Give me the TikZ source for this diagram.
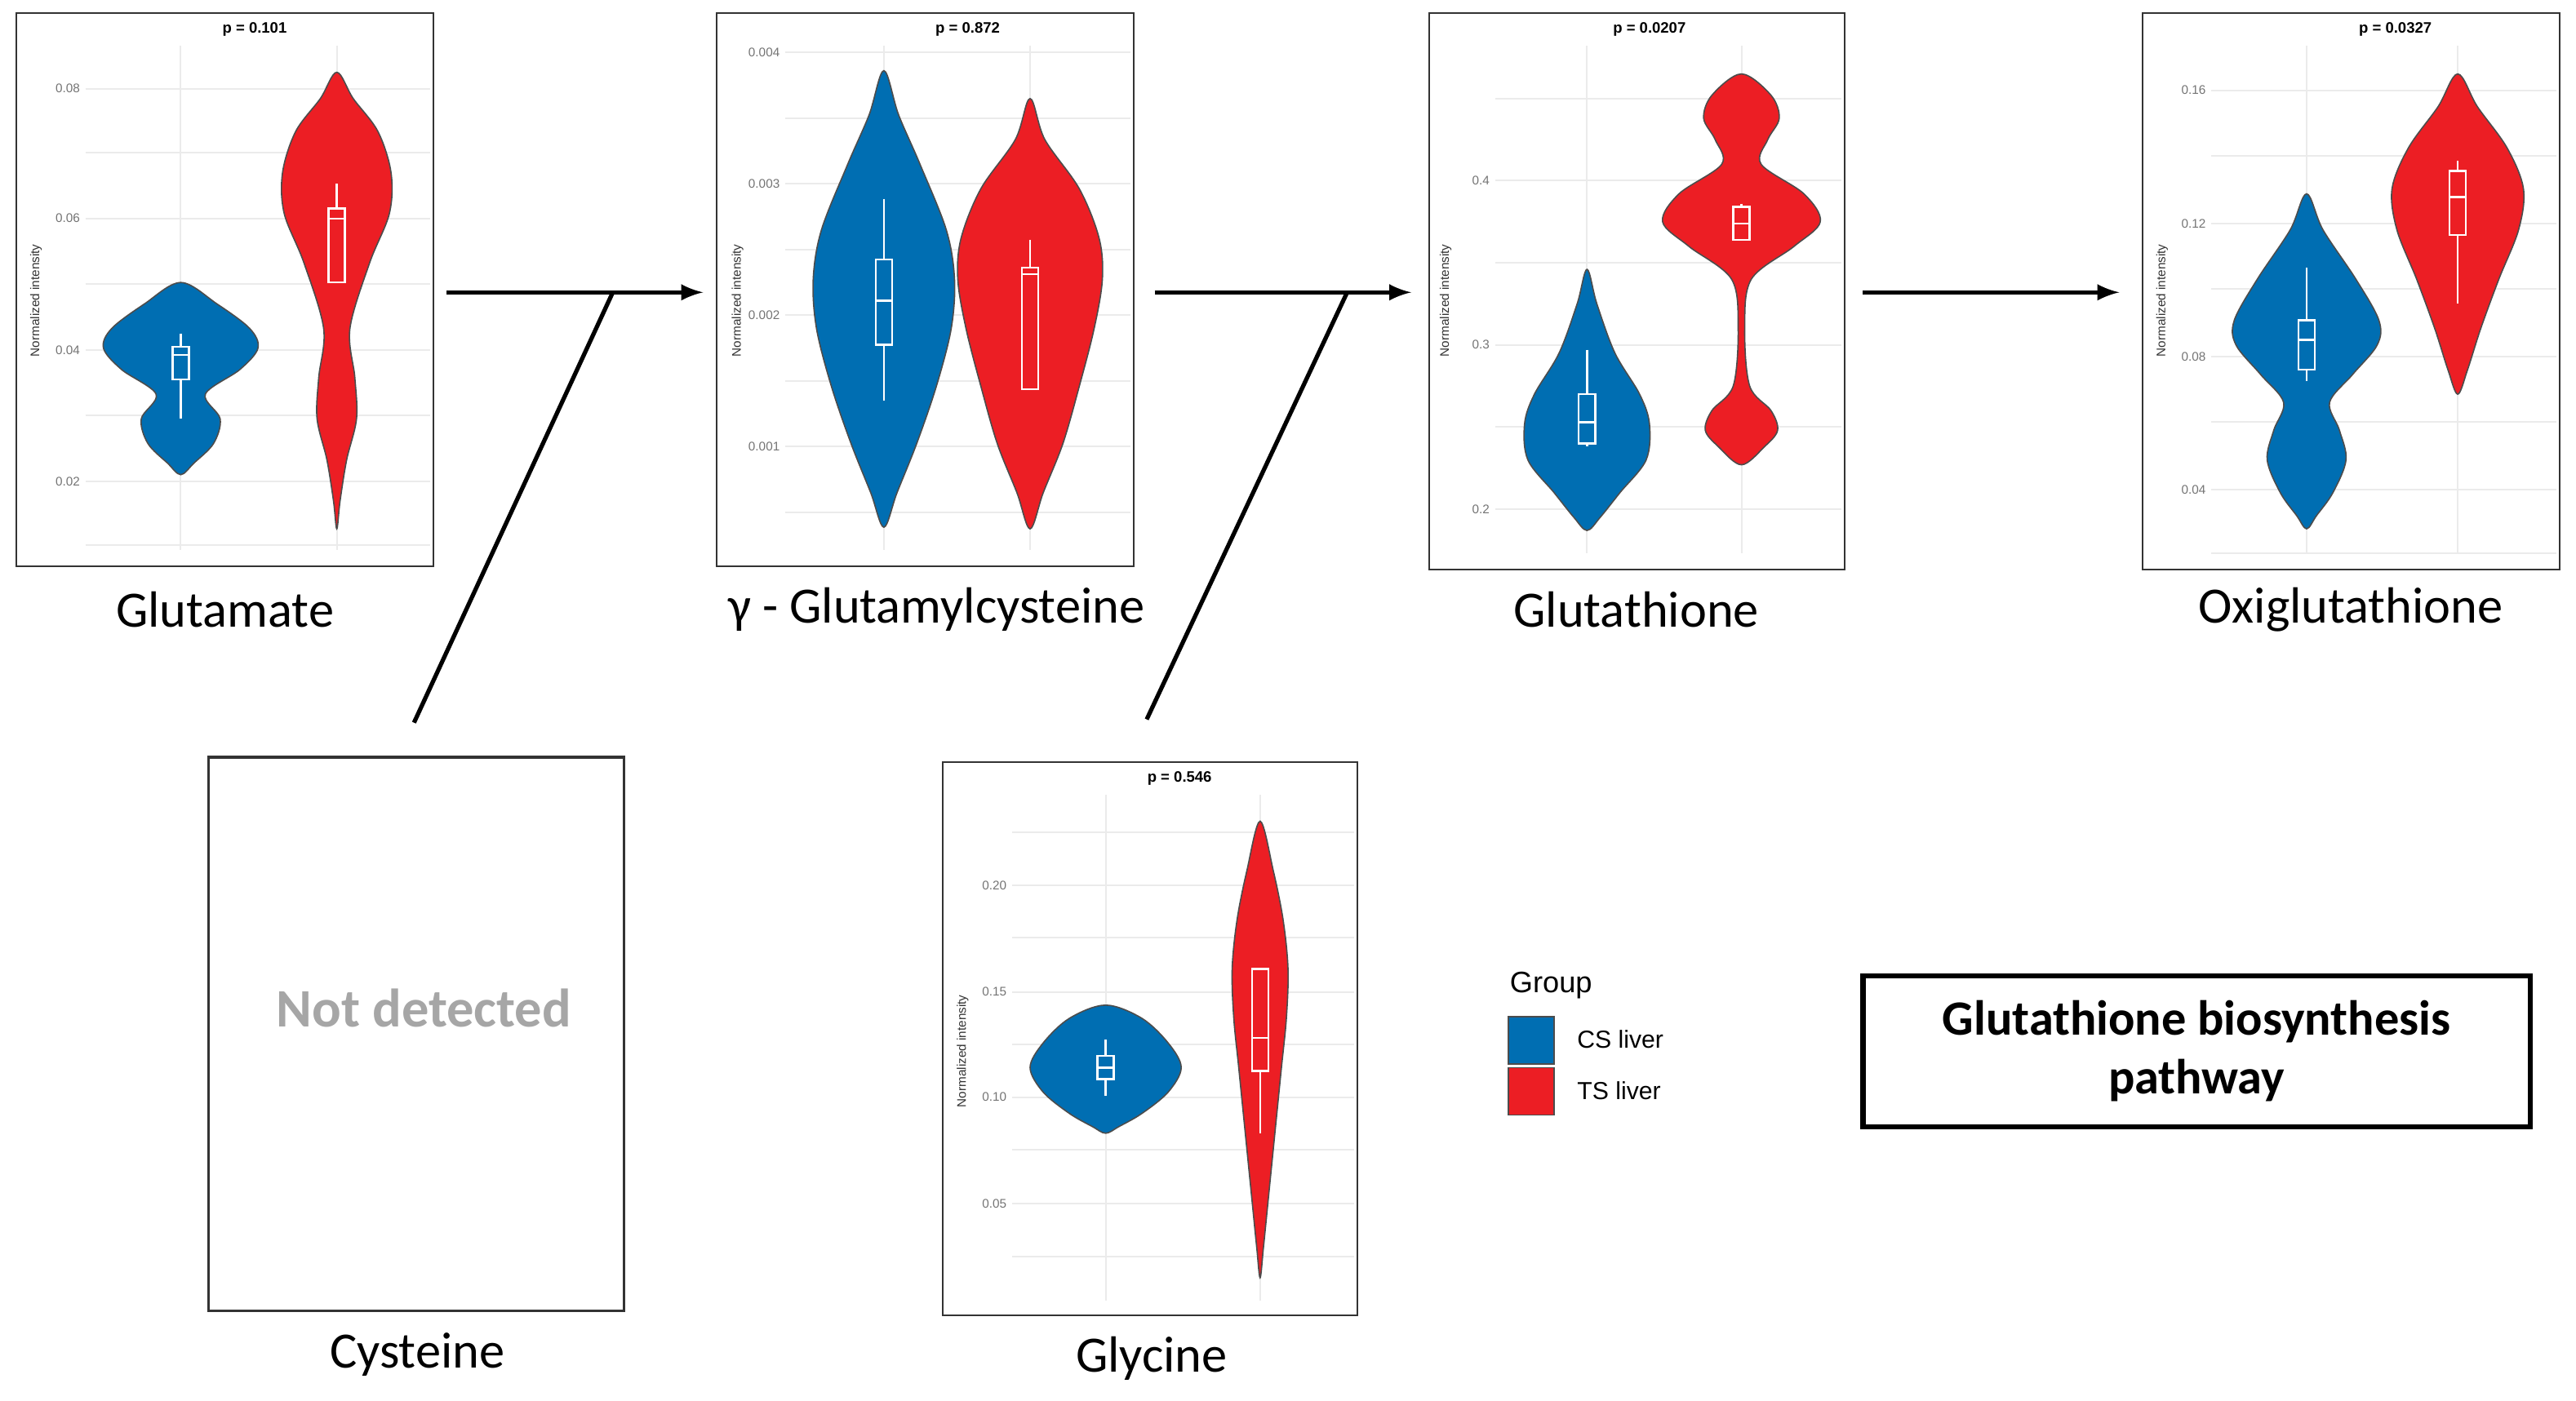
\documentclass[tikz,border=0pt]{standalone}
\usepackage{fontspec}
\setmainfont{Carlito}
\newfontfamily\arial{Liberation Sans}
\definecolor{vblue}{RGB}{0,110,178}
\definecolor{vred}{RGB}{236,30,36}
\definecolor{gridc}{RGB}{235,235,235}
\begin{document}
\begin{tikzpicture}[x=0.5pt,y=-0.5pt,
  frame/.style={draw=black!80,line width=0.5pt},
  tick/.style={font=\arial\fontsize{3.8}{4.5}\selectfont,text=black!55,anchor=east,inner sep=0.5pt},
  ylab/.style={font=\arial\fontsize{3.8}{4.5}\selectfont,rotate=90,text=black!80},
  ptxt/.style={font=\arial\bfseries\fontsize{4.6}{5.5}\selectfont},
  lbl/.style={font=\fontsize{15.5}{18}\selectfont},
  conn/.style={line width=1.3pt},
  arr/.style={conn,-latex}]
\useasboundingbox (0,0) rectangle (1568,853);
% macros
\newcommand\violin[5]{% cx color top bot list y/w
  \def\vR{}\def\vL{}%
  \foreach \yy/\ww in {#5}{\xdef\vR{\vR (#1+\ww,\yy)}\xdef\vL{(#1-\ww,\yy)\vL}}%
  \draw[fill=#2,draw=black!70,line width=0.4pt] plot[smooth cycle,tension=0.55] coordinates {(#1,#3)\vR(#1,#4)\vL};}
\newcommand\bplot[6]{% cx wt q3 med q1 wb
  \draw[white,line width=0.6pt] (#1,#2)--(#1,#3) (#1,#5)--(#1,#6) (#1-5,#3) rectangle (#1+5,#5) (#1-5,#4)--(#1+5,#4);}
\newcommand\grid[6]{%
  \draw[gridc,line width=0.5pt] (#5,#3)--(#5,#4) (#6,#3)--(#6,#4);}
% ---------- Panel 1 Glutamate
\draw[frame] (10,8) rectangle (264,345);
\foreach \y in {54,93,133,173,213,253,293,332}\draw[gridc,line width=0.5pt](52,\y)--(262,\y);
\grid{52}{262}{28}{335}{110}{205}
\foreach \y/\t in {54/0.08,133/0.06,213/0.04,293/0.02}\node[tick] at (50,\y){\t};
\node[ylab] (ya) at (22,183){Normalized intensity};
\node[ptxt] (pa) at (155,18){p = 0.101};
\violin{110}{vblue}{172}{289}{185/22,200/42,212/47,225/36,240/15,255/24,270/20,282/8}
\violin{205}{vred}{44}{322}{60/10,80/25,105/33,130/32,160/20,200/8,230/11,255/12,280/6,305/2}
\bplot{110}{203}{211}{216}{231}{255}
\bplot{205}{112}{127}{133}{172}{172}
\node[lbl] (n1) at (137,371){Glutamate};
% ---------- Panel 2
\draw[frame] (436,8) rectangle (690,345);
\foreach \y in {32,72,112,152,192,232,272,312}\draw[gridc,line width=0.5pt](478,\y)--(688,\y);
\grid{478}{688}{28}{335}{538}{627}
\foreach \y/\t in {32/0.004,112/0.003,192/0.002,272/0.001}\node[tick] at (476,\y){\t};
\node[ylab] (yb) at (449,183){Normalized intensity};
\node[ptxt] (pb) at (589,18){p = 0.872};
\violin{538}{vblue}{43}{321}{70/9,100/22,140/38,170/43,200/41,235/32,270/20,300/8}
\violin{627}{vred}{60}{322}{85/9,115/30,145/42,170/44,200/39,235/30,270/20,300/8}
\bplot{538}{121}{158}{183}{210}{244}
\bplot{627}{146}{163}{167}{237}{237}
\node[lbl] (n2) at (570,371){γ - Glutamylcysteine};
% ---------- Panel 3
\draw[frame] (870,8) rectangle (1123,347);
\foreach \y in {60,110,160,210,260,310}\draw[gridc,line width=0.5pt](910,\y)--(1121,\y);
\grid{910}{1121}{28}{337}{966}{1060}
\foreach \y/\t in {110/0.4,210/0.3,310/0.2}\node[tick] at (908,\y){\t};
\node[ylab] (yc) at (880,183){Normalized intensity};
\node[ptxt] (pc) at (1004,18){p = 0.0207};
\violin{966}{vblue}{164}{323}{185/6,215/17,240/32,258/38,280/36,300/20,315/8}
\violin{1060}{vred}{45}{283}{58/18,72/23,85/16,100/12,118/38,135/48,150/32,170/6,200/2,235/5,250/18,262/22,272/14}
\bplot{966}{213}{240}{257}{270}{272}
\bplot{1060}{124}{126}{136}{146}{146}
\node[lbl] (n3) at (996,371){Glutathione};
% ---------- Panel 4
\draw[frame] (1304,8) rectangle (1558,347);
\foreach \y in {55,95,136,176,217,257,298,337}\draw[gridc,line width=0.5pt](1346,\y)--(1556,\y);
\grid{1346}{1556}{28}{337}{1404}{1496}
\foreach \y/\t in {55/0.16,136/0.12,217/0.08,298/0.04}\node[tick] at (1344,\y){\t};
\node[ylab] (yd) at (1316,183){Normalized intensity};
\node[ptxt] (pd) at (1458,18){p = 0.0327};
\violin{1404}{vblue}{118}{322}{140/10,170/30,195/44,210/43,228/28,245/14,262/20,280/24,300/16,314/6}
\violin{1496}{vred}{45}{240}{65/12,90/30,115/40,140/37,170/25,200/14,225/6}
\bplot{1404}{163}{195}{207}{225}{232}
\bplot{1496}{98}{104}{120}{143}{185}
\node[lbl] (n4) at (1431,371){Oxiglutathione};
% ---------- Cysteine
\draw[frame,line width=0.8pt] (127,461) rectangle (380,798);
\node[font=\bfseries\fontsize{16.5}{19}\selectfont,text=black!35] (nd) at (258,614){Not detected};
\node[lbl] (n5) at (254,825){Cysteine};
% ---------- Glycine
\draw[frame] (574,464) rectangle (826,801);
\foreach \y in {507,539,571,604,636,668,700,733,765}\draw[gridc,line width=0.5pt](616,\y)--(824,\y);
\grid{616}{824}{484}{792}{673}{767}
\foreach \y/\t in {539/0.20,604/0.15,668/0.10,733/0.05}\node[tick] at (614,\y){\t};
\node[ylab] (ye) at (586,640){Normalized intensity};
\node[ptxt] (pe) at (718,474){p = 0.546};
\violin{673}{vblue}{612}{690}{620/22,635/38,650/46,665/38,678/22,686/8}
\violin{767}{vred}{500}{778}{530/8,560/14,590/17,620/16,650/13,690/9,730/5,760/2}
\bplot{673}{633}{643}{650}{657}{667}
\bplot{767}{590}{590}{632}{652}{690}
\node[lbl] (n6) at (701,827){Glycine};
% ---------- Legend
\node[font=\arial\fontsize{9}{11}\selectfont,anchor=west] (lg) at (912,600){Group};
\draw[fill=vblue,draw=black!70] (918,619) rectangle (946,648);
\draw[fill=vred,draw=black!70] (918,650) rectangle (946,679);
\node[font=\arial\fontsize{7.5}{9}\selectfont,anchor=west] (lc) at (953,633){CS liver};
\node[font=\arial\fontsize{7.5}{9}\selectfont,anchor=west] (lt) at (953,664){TS liver};
% ---------- Title box
\node[draw,line width=1.5pt,minimum width=203pt,minimum height=46pt,align=center,
  font=\bfseries\fontsize{15}{18}\selectfont] (tb) at (1337,640){Glutathione biosynthesis\\pathway};
% ---------- connectors
\coordinate (a1) at (272,178); \coordinate (a2) at (428,178);
\coordinate (j1) at (373,178); \coordinate (c1) at (252,440);
\coordinate (b1) at (703,178); \coordinate (b2) at (859,178);
\coordinate (j2) at (820,178); \coordinate (c2) at (698,438);
\coordinate (d1) at (1134,178); \coordinate (d2) at (1290,178);
\draw[arr] (a1)--(a2);
\draw[conn] (c1)--(j1);
\draw[arr] (b1)--(b2);
\draw[conn] (c2)--(j2);
\draw[arr] (d1)--(d2);
\end{tikzpicture}
\end{document}
